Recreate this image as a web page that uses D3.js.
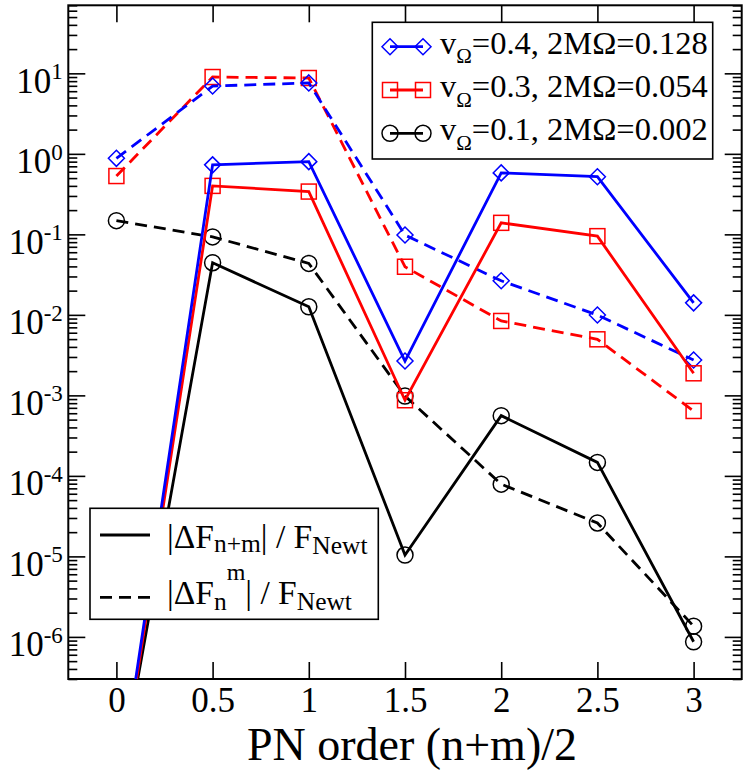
<!DOCTYPE html>
<html><head><meta charset="utf-8">
<script src="https://cdn.jsdelivr.net/npm/d3@7"></script>
<style>body{margin:0;background:#fff}svg{display:block}</style>
</head><body><svg id="c" width="747" height="770"></svg>
<script>
// ---- data ----
const pnOrder = [0, 0.5, 1, 1.5, 2, 2.5, 3];
const xTickValues = [0, 0.5, 1, 1.5, 2, 2.5, 3];
const xTickLabels = ["0", "0.5", "1", "1.5", "2", "2.5", "3"];
const yTickExponents = [1, 0, -1, -2, -3, -4, -5, -6];
const blueSolid  = [7.5e-9, 0.73, 0.80, 0.00267, 0.58, 0.52, 0.0141];
const blueDashed = [0.88, 6.95, 7.6, 0.098, 0.0265, 0.00995, 0.00275];
const redSolid   = [7e-9, 0.40, 0.34, 8.7e-4, 0.139, 0.095, 0.00188];
const redDashed  = [0.53, 9.0, 8.75, 0.0396, 0.0084, 0.00497, 6.4e-4];
const blackSolid = [1e-8, 0.0444, 0.0126, 1.04e-5, 5.6e-4, 1.47e-4, 8.7e-7];
const blackDashed= [0.148, 0.093, 0.0436, 9.8e-4, 7.9e-5, 2.6e-5, 1.36e-6];
const seriesLabels = [
  {v: "0.4", m: "0.128"},
  {v: "0.3", m: "0.054"},
  {v: "0.1", m: "0.002"}
];

const FONT = "'Liberation Serif','Times New Roman',serif";
const svg = d3.select("#c");
const L = 68.3, R = 741.7, T = 5.3, B = 679;
const x = d3.scaleLinear().domain([-0.25, 3.25]).range([L, R]);
const y = d3.scaleLog().domain([3e-7, 70]).range([B, T]);

const majors = yTickExponents.map(e => Math.pow(10, e));
const minors = [];
for (let e = -7; e <= 1; e++) for (let k = 2; k <= 9; k++) {
  const v = k * Math.pow(10, e);
  if (v >= 3e-7 && v <= 70) minors.push(v);
}

svg.append("defs").append("clipPath").attr("id", "clip")
  .append("rect").attr("x", L).attr("y", T).attr("width", R - L).attr("height", B - T);

// axes (inward ticks, mirrored)
function styleAxis(g) {
  g.select(".domain").remove();
  g.selectAll(".tick line").attr("stroke", "#000").attr("stroke-width", 1.6);
}
svg.append("g").attr("transform", `translate(0,${B})`)
  .call(d3.axisBottom(x).tickValues(xTickValues).tickSize(-17).tickSizeOuter(0)
    .tickFormat((d, i) => xTickLabels[i]))
  .call(styleAxis)
  .call(g => g.selectAll("text").attr("dy", null).attr("y", 33)
    .attr("font-family", FONT).attr("font-size", 35).attr("fill", "#000"));
svg.append("g").attr("transform", `translate(0,${T})`)
  .call(d3.axisTop(x).tickValues(xTickValues).tickSize(-17).tickFormat(""))
  .call(styleAxis);
const gyl = svg.append("g").attr("transform", `translate(${L},0)`)
  .call(d3.axisLeft(y).tickValues(majors).tickSize(-17).tickFormat(""))
  .call(styleAxis);
svg.append("g").attr("transform", `translate(${L},0)`)
  .call(d3.axisLeft(y).tickValues(minors).tickSize(-9).tickFormat(""))
  .call(styleAxis);
svg.append("g").attr("transform", `translate(${R},0)`)
  .call(d3.axisRight(y).tickValues(majors).tickSize(-17).tickFormat(""))
  .call(styleAxis);
svg.append("g").attr("transform", `translate(${R},0)`)
  .call(d3.axisRight(y).tickValues(minors).tickSize(-9).tickFormat(""))
  .call(styleAxis);

gyl.selectAll(".tick").each(function(d, i) {
  const t = d3.select(this).append("text")
    .attr("x", -5.5).attr("y", 19).attr("text-anchor", "end")
    .attr("font-family", FONT).attr("fill", "#000");
  t.append("tspan").attr("font-size", 35).text("10");
  t.append("tspan").attr("font-size", 23).attr("dy", -13.5).text(String(yTickExponents[i]));
});

// frame
svg.append("rect").attr("x", L).attr("y", T).attr("width", R - L).attr("height", B - T)
  .attr("fill", "none").attr("stroke", "#000").attr("stroke-width", 2);

// axis title
svg.append("text").attr("x", (L + R) / 2 + 7).attr("y", 760).attr("text-anchor", "middle")
  .attr("font-family", FONT).attr("font-size", 46).text("PN order (n+m)/2");

// markers
function marker(g, type, cx, cy, color) {
  if (type === "diamond") {
    const s = 8;
    g.append("path").attr("d", `M${cx},${cy - s}L${cx + s},${cy}L${cx},${cy + s}L${cx - s},${cy}Z`)
      .attr("fill", "none").attr("stroke", color).attr("stroke-width", 1.5);
  } else if (type === "square") {
    const s = 7.5;
    g.append("rect").attr("x", cx - s).attr("y", cy - s).attr("width", 2 * s).attr("height", 2 * s)
      .attr("fill", "none").attr("stroke", color).attr("stroke-width", 1.5);
  } else {
    g.append("circle").attr("cx", cx).attr("cy", cy).attr("r", 8)
      .attr("fill", "none").attr("stroke", color).attr("stroke-width", 1.5);
  }
}

const plot = svg.append("g").attr("clip-path", "url(#clip)");
const line = d3.line().x((d, i) => x(pnOrder[i])).y(d => y(d));
const series = [
  {data: blackDashed, color: "#000", dash: "12,7", type: "circle"},
  {data: redDashed, color: "#ff0000", dash: "12,7", type: "square"},
  {data: blueDashed, color: "#0000ff", dash: "12,7", type: "diamond"},
  {data: blackSolid, color: "#000", dash: null, type: "circle"},
  {data: redSolid, color: "#ff0000", dash: null, type: "square"},
  {data: blueSolid, color: "#0000ff", dash: null, type: "diamond"}
];
series.forEach(s => {
  plot.append("path").attr("d", line(s.data)).attr("fill", "none")
    .attr("stroke", s.color).attr("stroke-width", 2.8)
    .attr("stroke-dasharray", s.dash);
  s.data.forEach((v, i) => marker(plot, s.type, x(pnOrder[i]), y(v), s.color));
});

// legend 1
const lg1 = svg.append("g");
lg1.append("rect").attr("x", 372.3).attr("y", 22.3).attr("width", 340.4).attr("height", 136.7)
  .attr("fill", "#fff").attr("stroke", "#000").attr("stroke-width", 1.6);
const lg1Style = [
  {color: "#0000ff", type: "diamond"},
  {color: "#ff0000", type: "square"},
  {color: "#000", type: "circle"}
];
seriesLabels.forEach((s, i) => {
  const cy = 46.7 + i * 43.3;
  lg1.append("line").attr("x1", 390).attr("x2", 423).attr("y1", cy).attr("y2", cy)
    .attr("stroke", lg1Style[i].color).attr("stroke-width", 2.8);
  marker(lg1, lg1Style[i].type, 390, cy, lg1Style[i].color);
  marker(lg1, lg1Style[i].type, 423, cy, lg1Style[i].color);
  const t = lg1.append("text").attr("x", 440).attr("y", cy + 6.8)
    .attr("font-family", FONT).attr("font-size", 32.5).attr("fill", "#000");
  t.append("tspan").text("v");
  t.append("tspan").attr("font-size", 21).attr("dy", 9.7).text("Ω");
  t.append("tspan").attr("dy", -9.7).text(`=${s.v}, 2MΩ=${s.m}`);
});

// legend 2
const lg2 = svg.append("g");
lg2.append("rect").attr("x", 90).attr("y", 508.3).attr("width", 288.3).attr("height", 111)
  .attr("fill", "#fff").attr("stroke", "#000").attr("stroke-width", 1.6);
lg2.append("line").attr("x1", 100).attr("x2", 150).attr("y1", 535).attr("y2", 535)
  .attr("stroke", "#000").attr("stroke-width", 2.8);
lg2.append("line").attr("x1", 100).attr("x2", 150).attr("y1", 597.3).attr("y2", 597.3)
  .attr("stroke", "#000").attr("stroke-width", 2.8).attr("stroke-dasharray", "12,7");
const t1 = lg2.append("text").attr("x", 167).attr("y", 548)
  .attr("font-family", FONT).attr("font-size", 33.5).attr("fill", "#000");
t1.append("tspan").text("|ΔF");
t1.append("tspan").attr("font-size", 25.5).attr("dy", 4).text("n+m");
t1.append("tspan").attr("dy", -4).text("| / F");
t1.append("tspan").attr("font-size", 25.5).attr("dy", 6).text("Newt");
const t2 = lg2.append("text").attr("x", 167).attr("y", 604)
  .attr("font-family", FONT).attr("font-size", 33.5).attr("fill", "#000");
t2.append("tspan").text("|ΔF");
t2.append("tspan").attr("font-size", 25.5).attr("dy", 6).text("n");
t2.append("tspan").attr("font-size", 24).attr("dy", -30).text("m");
t2.append("tspan").attr("dy", 24).text("| / F");
t2.append("tspan").attr("font-size", 25.5).attr("dy", 6).text("Newt");
</script></body></html>
